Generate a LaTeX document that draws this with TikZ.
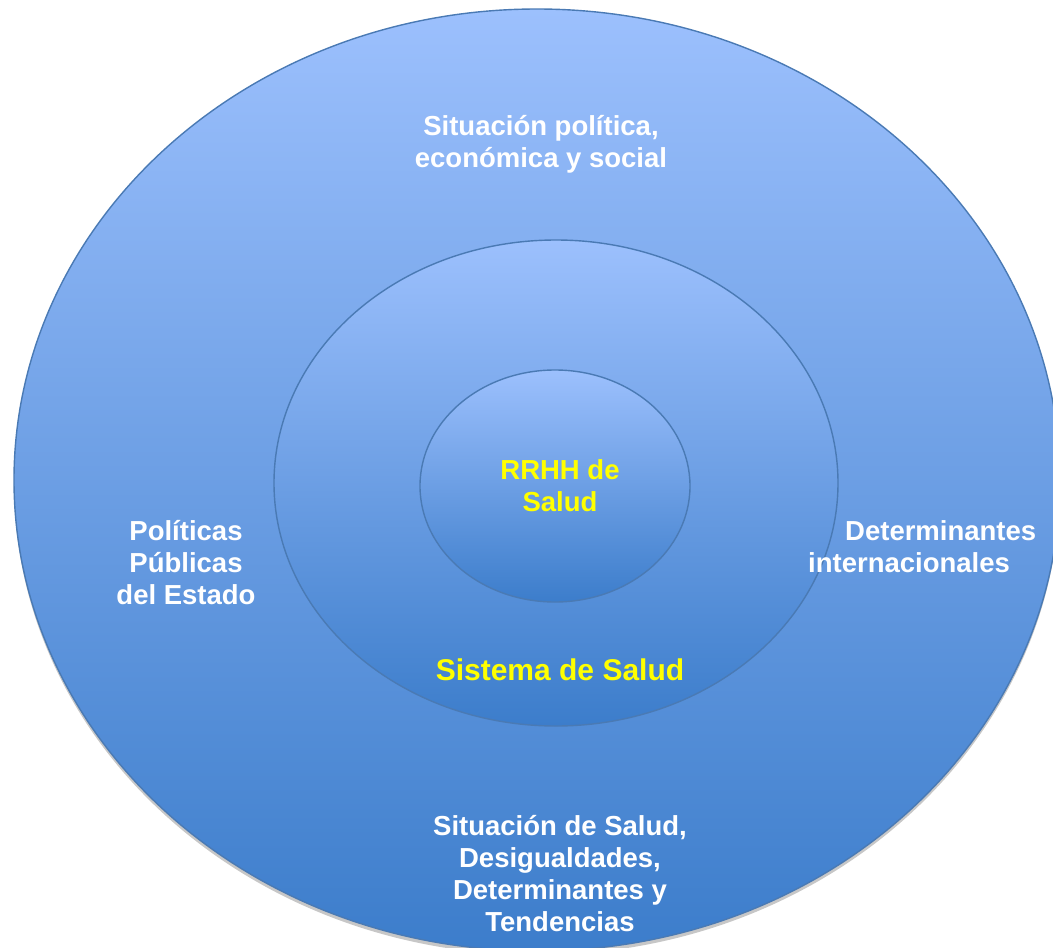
\documentclass[tikz,border=0pt]{standalone}
\usepackage{fontspec}
\setmainfont{Liberation Sans}
\usetikzlibrary{shapes.geometric}
\definecolor{topblue}{HTML}{9CC0FD}
\definecolor{botblue}{HTML}{3C7DCB}
\definecolor{edgeblue}{HTML}{4A7AB4}
\definecolor{txtyellow}{HTML}{FFFF00}
\tikzset{
  ring/.style={top color=topblue, bottom color=botblue, draw=edgeblue, line width=1.4pt},
  wlabel/.style={text=white, font=\bfseries\fontsize{27.5}{32}\selectfont, align=center, inner sep=0pt},
  ylabel/.style={text=txtyellow, font=\bfseries\fontsize{27.5}{32}\selectfont, align=center, inner sep=0pt}
}
\begin{document}
\begin{tikzpicture}[x=1pt,y=-1pt]
\useasboundingbox (0,0) rectangle (1053,948);
\begin{scope}
\clip (0,0) rectangle (1053,948);
\fill[black!22] (537,484) ellipse [x radius=523, y radius=471];
\shade[ring] (537,480) ellipse [x radius=523, y radius=471];
\node[coordinate] (outer) at (537,480) {};
\end{scope}
\shade[ring] (556,483) ellipse [x radius=282, y radius=243];
\node[coordinate] (middle) at (556,483) {};
\shade[ring] (555,486) ellipse [x radius=135, y radius=116];
\node[coordinate] (inner) at (555,486) {};

\node[wlabel] (top) at (541,144) {Situación política,\\económica y social};
\node[ylabel] (rrhh) at (560,486) {RRHH de\\Salud};
\node[wlabel] (left) at (186,563) {Políticas\\Públicas\\del Estado};
\node[wlabel, align=left, anchor=west] (right) at (808,547) {\hspace*{37pt}Determinantes\\internacionales};
\node[ylabel, font=\bfseries\fontsize{30}{32}\selectfont] (sis) at (560,670) {Sistema de Salud};
\node[wlabel] (bottom) at (560,874) {Situación de Salud,\\Desigualdades,\\Determinantes y\\Tendencias};
\end{tikzpicture}
\end{document}
